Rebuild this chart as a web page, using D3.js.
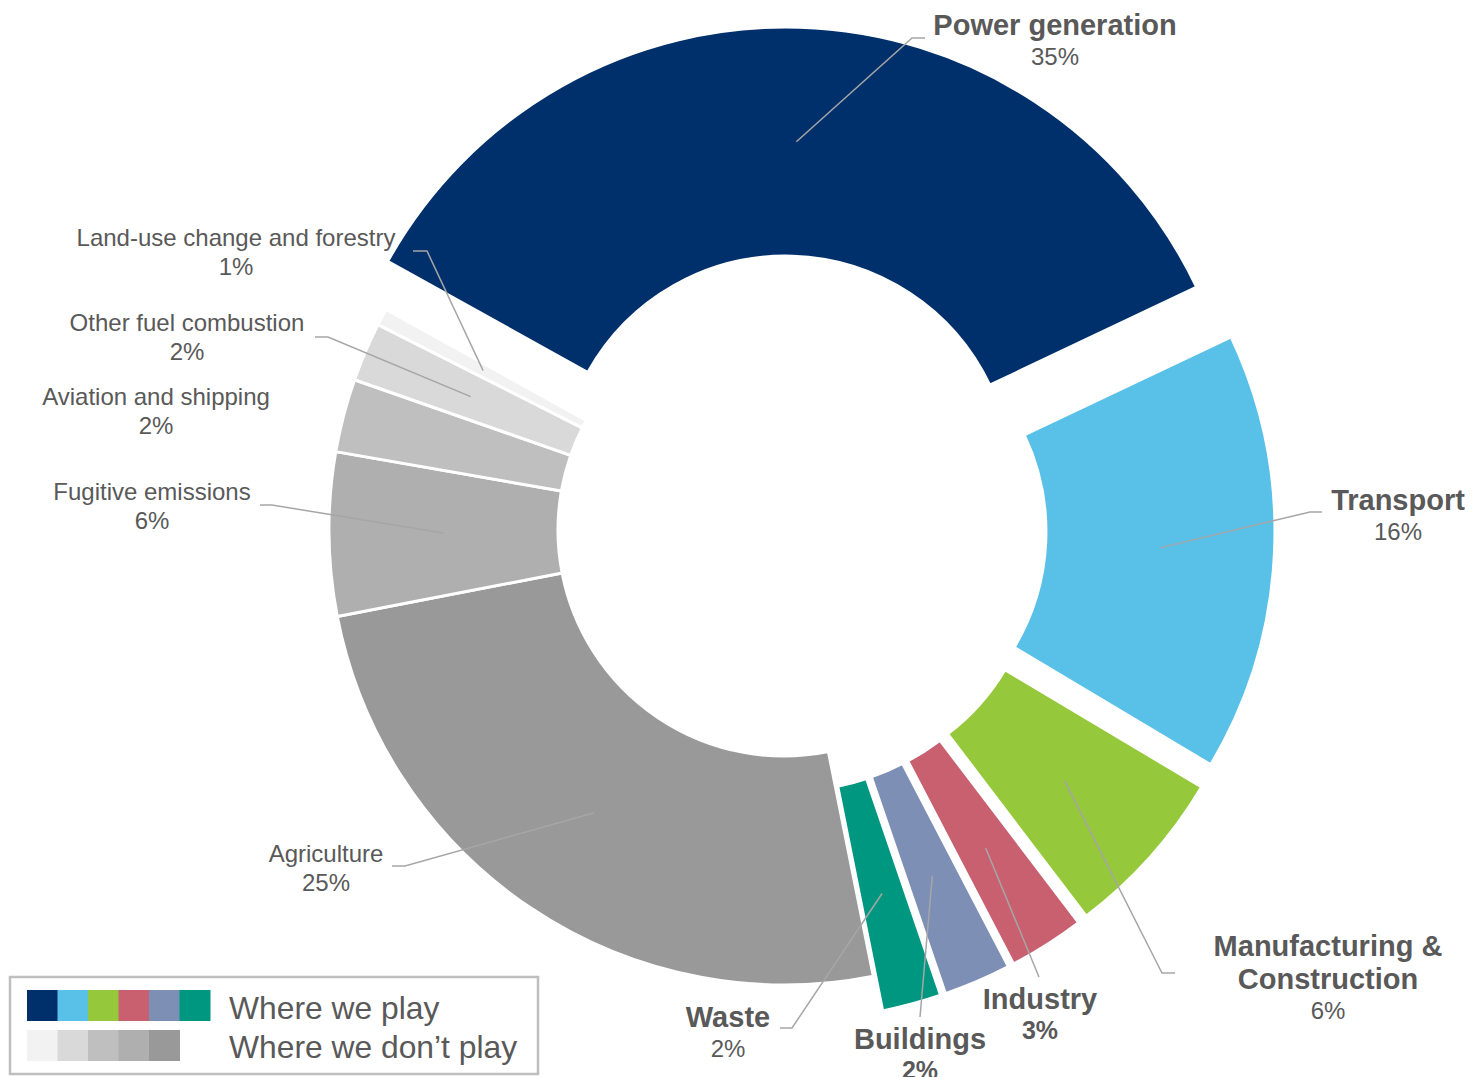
<!DOCTYPE html>
<html>
<head>
<meta charset="utf-8">
<script src="https://cdn.jsdelivr.net/npm/d3@7"></script>
<style>
  body { margin: 0; background: #fff; }
  text { font-family: "Liberation Sans", Arial, Helvetica, sans-serif; fill: #595959; }
</style>
</head>
<body>
<svg id="chart" width="1476" height="1077"></svg>
<script>
// data (share of emissions, %)
const sectors = [
  "Power generation", "Transport", "Manufacturing &\nConstruction", "Industry",
  "Buildings", "Waste", "Agriculture", "Fugitive emissions",
  "Aviation and shipping", "Other fuel combustion", "Land-use change and forestry"
];
const shares = [34.9, 15.6, 6.1, 2.7, 2.4, 2.1, 25.1, 5.8, 2.6, 2.1, 0.6];
const shareLabels = ["35%", "16%", "6%", "3%", "2%", "2%", "25%", "6%", "2%", "2%", "1%"];
const wePlay = [true, true, true, true, true, true, false, false, false, false, false];
const legendGroups = ["Where we play", "Where we don\u2019t play"];

// styling
const colors = ["#00306b", "#59c1e8", "#96c83c", "#c86070", "#7e8fb6", "#009781",
                "#999999", "#afafaf", "#bfbfbf", "#d9d9d9", "#f2f2f2"];
const explode = [48, 36, 36, 36, 36, 36, 0, 0, 0, 0, 0];
const boldPct = [false, false, false, true, true, false, false, false, false, false, false];

// label placement (text centre / first baseline, leader elbow, leader end)
const labelPos = [
  { x: 1055, y: 35,   elbow: [912, 38],   end: 925 },
  { x: 1398, y: 510,  elbow: [1310, 512], end: 1322 },
  { x: 1328, y: 956,  elbow: [1162, 973], end: 1175 },
  { x: 1040, y: 1009, elbow: [1039, 977], end: null },
  { x: 920,  y: 1049, elbow: [920, 1017], end: null },
  { x: 728,  y: 1027, elbow: [792, 1028], end: 780 },
  { x: 326,  y: 862,  elbow: [405, 866],  end: 392 },
  { x: 152,  y: 500,  elbow: [272, 505],  end: 260 },
  { x: 156,  y: 405,  elbow: null,        end: null },
  { x: 187,  y: 331,  elbow: [328, 337],  end: 315 },
  { x: 236,  y: 246,  elbow: [427, 251],  end: 413 }
];

const cx = 784, cy = 530;
const rInner = 226, rOuter = 455;
const deg = Math.PI / 180;

const svg = d3.select("#chart");

const data = sectors.map((name, i) => ({
  name, share: shares[i], pct: shareLabels[i], play: wePlay[i], i
}));

const pie = d3.pie()
  .sort(null)
  .value(d => d.share)
  .startAngle(-61 * deg)
  .endAngle(299 * deg);

const arc = d3.arc().innerRadius(rInner).outerRadius(rOuter);
const arcs = pie(data);

function shift(d) {
  const a = (d.startAngle + d.endAngle) / 2;
  const e = explode[d.data.i];
  return [Math.sin(a) * e, -Math.cos(a) * e];
}

const g = svg.append("g").attr("transform", `translate(${cx},${cy})`);

g.selectAll("path.slice")
  .data(arcs)
  .join("path")
  .attr("class", "slice")
  .attr("transform", d => `translate(${shift(d)})`)
  .attr("d", arc)
  .attr("fill", d => colors[d.data.i])
  .attr("stroke", "#fff")
  .attr("stroke-width", 3);

// leader lines
const leaders = svg.append("g")
  .attr("fill", "none")
  .attr("stroke", "#a6a6a6")
  .attr("stroke-width", 1.5);

arcs.forEach(d => {
  const p = labelPos[d.data.i];
  if (!p.elbow) return;
  const c = arc.centroid(d);
  const s = shift(d);
  const pts = [[cx + c[0] + s[0], cy + c[1] + s[1]], p.elbow];
  if (p.end !== null) pts.push([p.end, p.elbow[1]]);
  leaders.append("path").attr("d", d3.line()(pts));
});

// labels
const labels = svg.append("g").attr("text-anchor", "middle");

arcs.forEach(d => {
  const p = labelPos[d.data.i];
  const lines = d.data.name.split("\n");
  const bold = d.data.play;
  const step = bold ? 32.5 : 28.5;
  const t = labels.append("text");
  lines.forEach((ln, k) => {
    t.append("tspan")
      .attr("x", p.x)
      .attr("y", p.y + k * step)
      .attr("font-size", bold ? 29 : 24)
      .attr("font-weight", bold ? "bold" : "normal")
      .text(ln);
  });
  t.append("tspan")
    .attr("x", p.x)
    .attr("y", p.y + (lines.length - 1) * step + (bold ? 30 : 28.5))
    .attr("font-size", boldPct[d.data.i] ? 25 : 24)
    .attr("font-weight", boldPct[d.data.i] ? "bold" : "normal")
    .text(d.data.pct);
});

// legend
const legend = svg.append("g");
legend.append("rect")
  .attr("x", 10).attr("y", 977)
  .attr("width", 528).attr("height", 97)
  .attr("fill", "#fff")
  .attr("stroke", "#bfbfbf")
  .attr("stroke-width", 2.5);

const playColors = colors.filter((c, i) => wePlay[i]);
const otherColors = colors.filter((c, i) => !wePlay[i]).reverse();
const sw = d3.scaleBand().domain(d3.range(6)).range([27, 210]);

[playColors, otherColors].forEach((row, r) => {
  legend.selectAll(null)
    .data(row)
    .join("rect")
    .attr("x", (c, k) => sw(k))
    .attr("y", 990 + r * 40)
    .attr("width", sw.bandwidth() + 0.5)
    .attr("height", 31)
    .attr("fill", c => c);
  legend.append("text")
    .attr("x", 229)
    .attr("y", 1019 + r * 39)
    .attr("font-size", 31.8)
    .text(legendGroups[r]);
});
</script>
</body>
</html>
